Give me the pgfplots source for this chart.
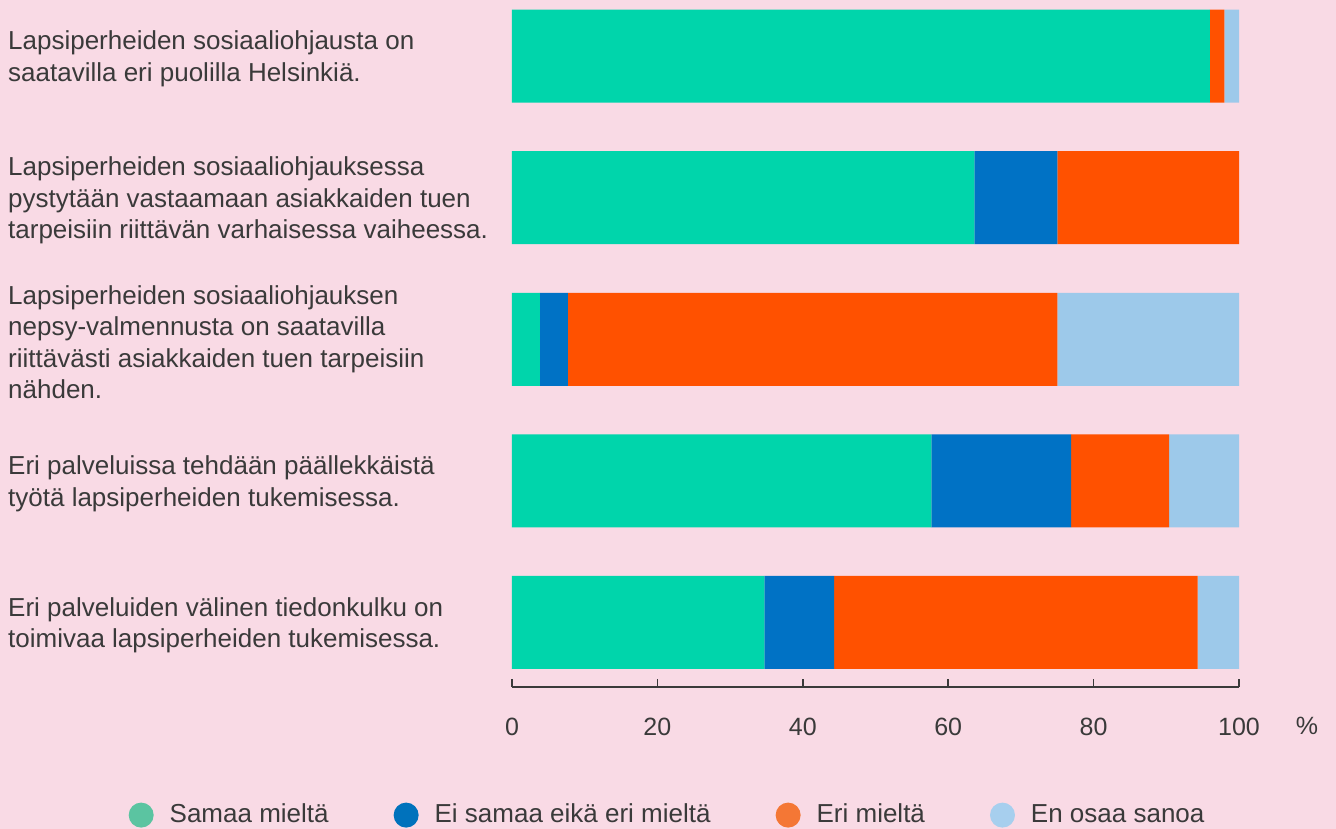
\documentclass[border=0pt]{standalone}
\usepackage{fontspec}
\setmainfont{Liberation Sans}
\usepackage{pgfplots}
\pgfplotsset{compat=1.18}
\definecolor{bg}{HTML}{F9DAE5}
\definecolor{txt}{HTML}{3A3A3A}
\definecolor{cgreen}{HTML}{00D5AB}
\definecolor{cblue}{HTML}{0072C5}
\definecolor{corange}{HTML}{FF5100}
\definecolor{clight}{HTML}{9DC9EA}
\definecolor{lgreen}{HTML}{5BC4A1}
\definecolor{lblue}{HTML}{0072BC}
\definecolor{lorange}{HTML}{F47735}
\definecolor{llight}{HTML}{A7CFEE}
\begin{document}
\fontsize{23}{31}\selectfont
\begin{tikzpicture}
\fill[bg] (0,0) rectangle (1336pt,829pt);
\useasboundingbox (0,0) rectangle (1336pt,829pt);
\begin{axis}[
  at={(512pt,142pt)}, anchor=south west,
  scale only axis, width=727pt, height=687pt,
  xbar stacked, bar width=93pt,
  xmin=0, xmax=100,
  ymin=-0.3955, ymax=4.4555, y dir=reverse,
  axis x line*=bottom, axis y line*=left,
  x axis line style={txt, line width=1.6pt},
  y axis line style={draw=none},
  xtick={0,20,...,100},
  tick align=inside, major tick length=8pt,
  xtick style={txt, line width=1.6pt},
  ytick style={draw=none},
  /pgf/number format/assume math mode=true,
  xticklabel style={anchor=base, yshift=-48pt, text=txt, font=\fontsize{25}{28}\selectfont},
  ytick={0,1,2,3,4},
  yticklabels={{Lapsiperheiden sosiaaliohjausta on\\saatavilla eri puolilla Helsinkiä.},
    {Lapsiperheiden sosiaaliohjauksessa\\pystytään vastaamaan asiakkaiden tuen\\tarpeisiin riittävän varhaisessa vaiheessa.},
    {Lapsiperheiden sosiaaliohjauksen\\nepsy-valmennusta on saatavilla\\riittävästi asiakkaiden tuen tarpeisiin\\nähden.},
    {Eri palveluissa tehdään päällekkäistä\\työtä lapsiperheiden tukemisessa.},
    {Eri palveluiden välinen tiedonkulku on\\toimivaa lapsiperheiden tukemisessa.}},
  yticklabel style={anchor=west, align=left, inner sep=0pt, xshift=-504pt, yshift=-3pt, text=txt, font=\fontsize{26}{31.5}\selectfont},
  legend columns=4,
  legend style={at={(axis cs:21.4,5.36)}, anchor=center, draw=none, fill=none,
    text=txt, font=\fontsize{26}{28}\selectfont,
    /tikz/every even column/.append style={column sep=63pt}},
]
\addplot[fill=cgreen, draw=none, legend image code/.code={\fill[lgreen] (0pt,0pt) circle (12.5pt);}]
  coordinates {(96,0) (63.6,1) (3.85,2) (57.7,3) (34.7,4)};
\addplot[fill=cblue, draw=none, legend image code/.code={\fill[lblue] (0pt,0pt) circle (12.5pt);}]
  coordinates {(0,0) (11.4,1) (3.85,2) (19.2,3) (9.6,4)};
\addplot[fill=corange, draw=none, legend image code/.code={\fill[lorange] (0pt,0pt) circle (12.5pt);}]
  coordinates {(2,0) (25,1) (67.3,2) (13.5,3) (50,4)};
\addplot[fill=clight, draw=none, legend image code/.code={\fill[llight] (0pt,0pt) circle (12.5pt);}]
  coordinates {(2,0) (0,1) (25,2) (9.6,3) (5.7,4)};
\legend{\hspace{14pt}Samaa mieltä, \hspace{14pt}Ei samaa eikä eri mieltä, \hspace{14pt}Eri mieltä, \hspace{14pt}En osaa sanoa}
\end{axis}
\node[anchor=base, text=txt, font=\fontsize{25}{28}\selectfont] at (1307pt,94pt) {\%};
\end{tikzpicture}
\end{document}
